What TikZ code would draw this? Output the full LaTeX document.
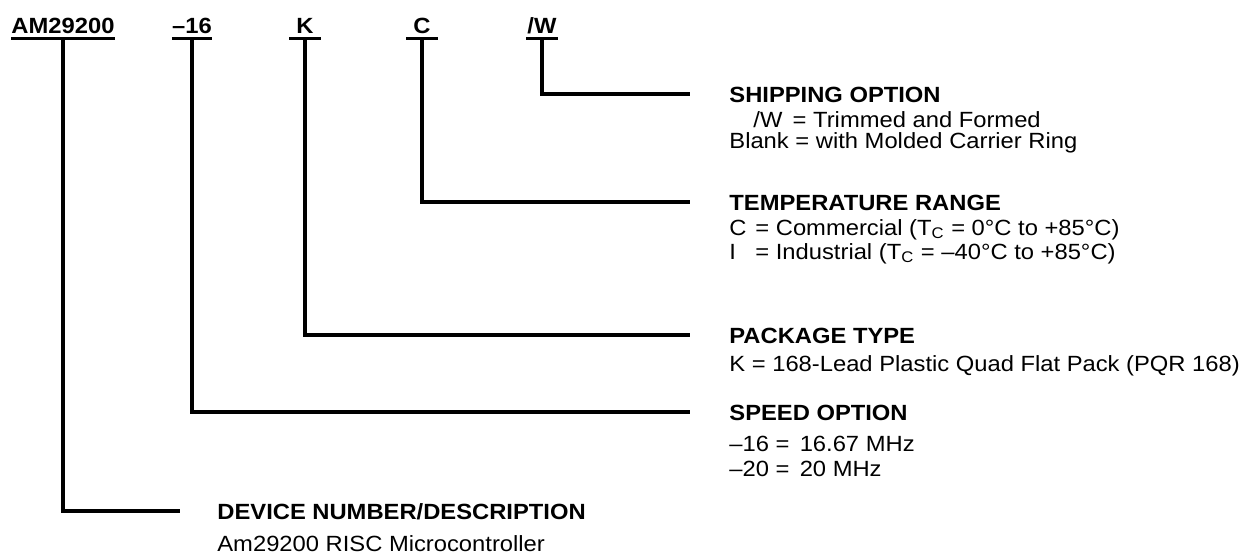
\documentclass[tikz,border=0pt]{standalone}
\usepackage{fontspec}
\setmainfont{Liberation Sans}[FakeStretch=1.08]

\begin{document}
\begin{tikzpicture}[x=0.5pt,y=-0.5pt,font=\fontsize{11pt}{13pt}\selectfont,
  lead/.style={line width=1.8pt},
  code/.style={font=\fontsize{11pt}{13pt}\selectfont\bfseries,anchor=base,inner xsep=0pt,inner ysep=2.5pt,text depth=0pt,minimum width=15.5pt},
  head/.style={font=\fontsize{11pt}{13pt}\selectfont\bfseries,anchor=base west,inner sep=0pt},
  desc/.style={anchor=base west,inner sep=0pt}]
\useasboundingbox (0,0) rectangle (1244,554);
% ordering code
\node[code] (am)  at (63,33)  {AM29200};
\node[code] (spd) at (192,33) {–16};
\node[code] (pkg) at (305,33) {K};
\node[code] (tmp) at (422,33) {C};
\node[code] (shp) at (542,33) {/W};
\foreach \n in {am,spd,pkg,tmp,shp}
  \draw[lead] (\n.south west) -- (\n.south east);
% line ends
\coordinate (eShp) at (690,94);
\coordinate (eTmp) at (690,202);
\coordinate (ePkg) at (690,335);
\coordinate (eSpd) at (690,412);
\coordinate (eAm)  at (180,511);
% headings and descriptions
\node[head] (hShp) at (729,102) {SHIPPING OPTION};
\node[desc] (dShp1) at (753,127) {/W \,= Trimmed and Formed};
\node[desc] (dShp2) at (729,148) {Blank = with Molded Carrier Ring};
\node[head] (hTmp) at (729,210) {TEMPERATURE RANGE};
\node[desc] (dTmp1) at (729,235) {\makebox[13pt][l]{C}= Commercial (T\textsubscript{C} = 0°C to +85°C)};
\node[desc] (dTmp2) at (729,259) {\makebox[13pt][l]{I}= Industrial (T\textsubscript{C} = –40°C to +85°C)};
\node[head] (hPkg) at (729,343) {PACKAGE TYPE};
\node[desc] (dPkg) at (729,371) {K = 168-Lead Plastic Quad Flat Pack (PQR 168)};
\node[head] (hSpd) at (729,420) {SPEED OPTION};
\node[desc] (dSpd1) at (729,451) {–16 = \,16.67 MHz};
\node[desc] (dSpd2) at (729,476) {–20 = \,20 MHz};
\node[head] (hAm) at (217,519) {DEVICE NUMBER/DESCRIPTION};
\node[desc] (dAm) at (217,551) {Am29200 RISC Microcontroller};
% leaders
\draw[lead] (shp.south) |- (eShp);
\draw[lead] (tmp.south) |- (eTmp);
\draw[lead] (pkg.south) |- (ePkg);
\draw[lead] (spd.south) |- (eSpd);
\draw[lead] (am.south)  |- (eAm);
\end{tikzpicture}
\end{document}
